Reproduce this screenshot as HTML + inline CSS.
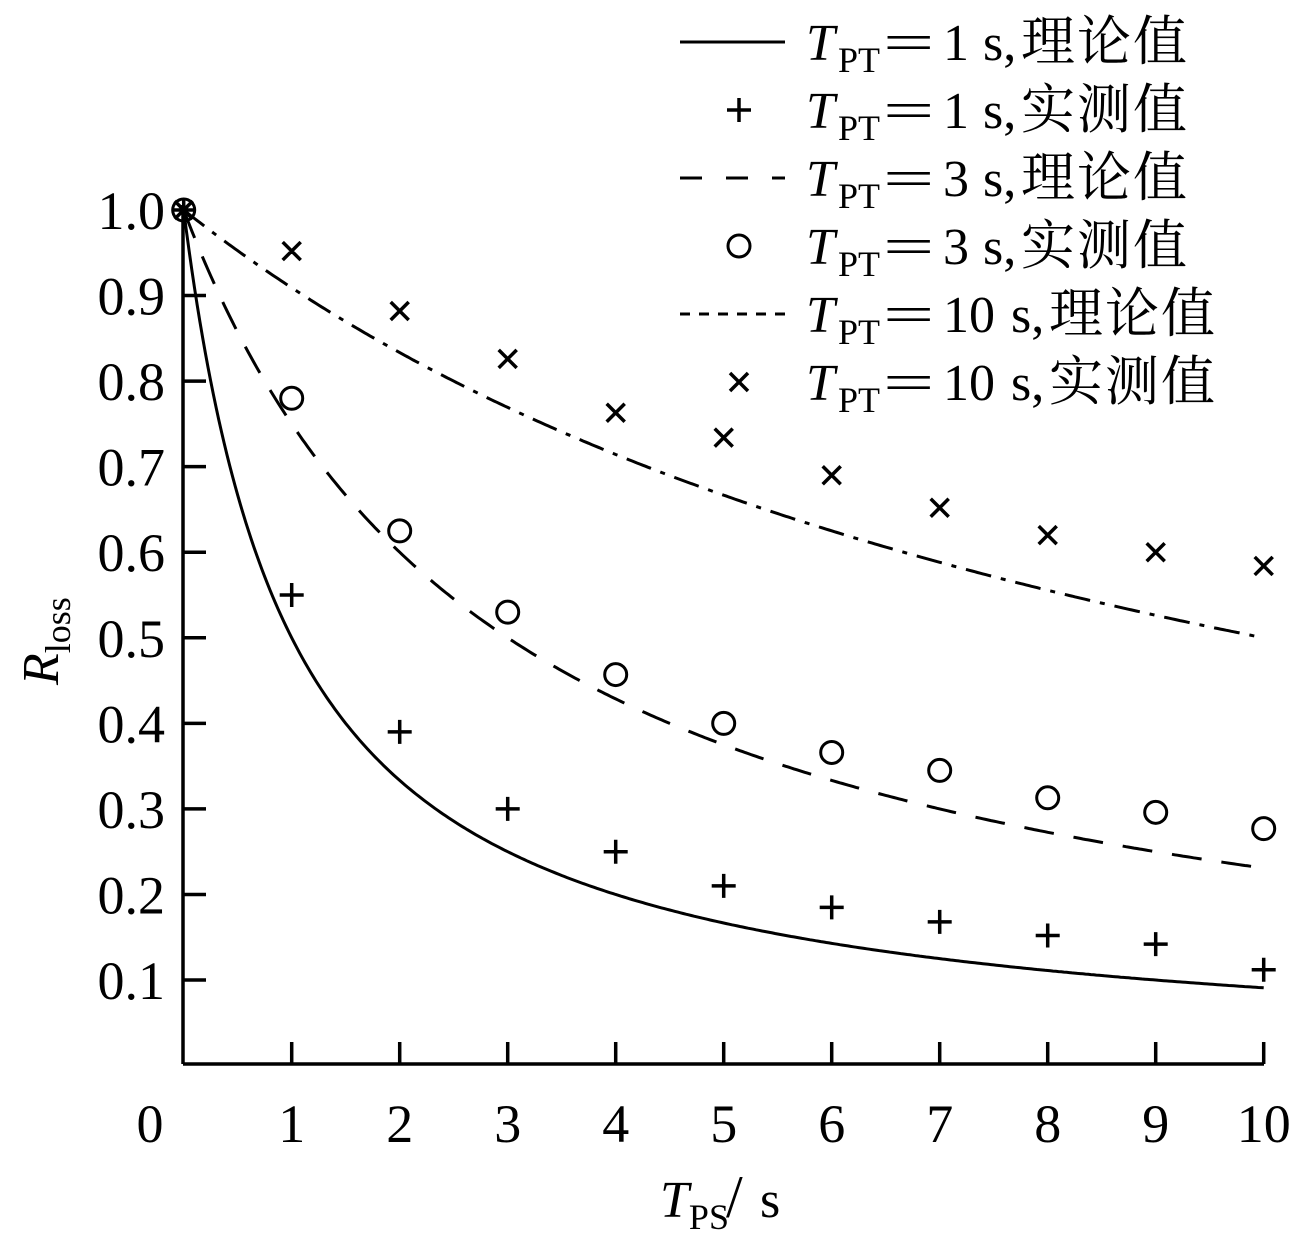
<!DOCTYPE html>
<html><head><meta charset="utf-8"><style>
html,body{margin:0;padding:0;background:#fff}
svg text{font-family:"Liberation Serif","Noto Serif CJK SC","Noto Sans CJK SC",serif;fill:#000}
</style></head><body>
<svg id="s" width="1292" height="1254" viewBox="0 0 1292 1254" xmlns="http://www.w3.org/2000/svg">
<g stroke="#000" stroke-width="3.5" fill="none">
<path d="M183 1064 H1264 M183 1064 V205"/>
<g id="ticks"></g>
<path id="c1" stroke-width="3"/>
<path id="c3" stroke-width="3" stroke-dasharray="30 20"/>
<path id="c10" stroke-width="3" stroke-dasharray="26 10 5 10"/>
<g id="marks" stroke-width="3.5"></g>
<path d="M680 42 H785" stroke-width="3"/>
<path d="M727 110 H751 M739 98 V122" stroke-width="3.5"/>
<path d="M680 178 H785" stroke-width="3" stroke-dasharray="22 24"/>
<circle cx="739" cy="246" r="11" stroke-width="3"/>
<path d="M680 314 H785" stroke-width="3" stroke-dasharray="10 9"/>
<path d="M730 373 L748 391 M748 373 L730 391" stroke-width="3.5"/>
</g>
<g font-size="54" id="labels"></g>
<g font-size="52" id="leg"></g>
<g font-size="52">
<text y="1217"><tspan x="660" font-style="italic">T</tspan><tspan font-size="36" dy="12">PS</tspan><tspan dy="-12" x="726" font-size="60">/</tspan><tspan x="760">s</tspan></text>
<text transform="translate(58,685) rotate(-90)"><tspan font-style="italic">R</tspan><tspan font-size="36" dy="12">loss</tspan></text>
</g>
</svg>
<script>
var X=function(v){return 183.7+108*v},Y=function(v){return 1065.6-855.6*v};
function curve(T){var d="";for(var i=0;i<=400;i++){var x=i/40;d+=(i?"L":"M")+X(x).toFixed(1)+" "+Y(T/(T+x)).toFixed(1);}return d;}
document.getElementById("c1").setAttribute("d",curve(1));
document.getElementById("c3").setAttribute("d",curve(3));
document.getElementById("c10").setAttribute("d",curve(10));
var t="";for(var i=1;i<=10;i++){t+="M"+X(i)+" 1064 V1042 ";}
for(var j=1;j<=9;j++){t+="M183 "+Y(j/10)+" H206 ";}
document.getElementById("ticks").innerHTML='<path d="'+t+'"/>';
var plus=[.55,.39,.30,.25,.21,.185,.168,.152,.142,.112];
var circ=[.78,.625,.53,.457,.40,.366,.345,.313,.296,.277];
var crs=[.952,.882,.826,.763,.734,.69,.652,.62,.6,.584];
var m='<circle cx="'+X(0)+'" cy="'+Y(1)+'" r="11" stroke-width="3"/>';
m+='<path d="M'+(X(0)-12)+' '+Y(1)+'H'+(X(0)+12)+'M'+X(0)+' '+(Y(1)-12)+'V'+(Y(1)+12)+'M'+(X(0)-9)+' '+(Y(1)-9)+'L'+(X(0)+9)+' '+(Y(1)+9)+'M'+(X(0)+9)+' '+(Y(1)-9)+'L'+(X(0)-9)+' '+(Y(1)+9)+'"/>';
var p="";
for(var k=0;k<10;k++){var x=X(k+1);
 var y=Y(plus[k]);p+="M"+(x-12)+" "+y+"H"+(x+12)+"M"+x+" "+(y-12)+"V"+(y+12);
 y=Y(crs[k]);p+="M"+(x-9)+" "+(y-9)+"L"+(x+9)+" "+(y+9)+"M"+(x+9)+" "+(y-9)+"L"+(x-9)+" "+(y+9);
 m+='<circle cx="'+x+'" cy="'+Y(circ[k])+'" r="11" stroke-width="3"/>';}
m+='<path d="'+p+'"/>';
document.getElementById("marks").innerHTML=m;
var l="";
for(var j=1;j<=10;j++){l+='<text x="165" y="'+(Y(j/10)+19)+'" text-anchor="end">'+(j==10?"1.0":"0."+j)+'</text>';}
l+='<text x="150" y="1142" text-anchor="middle">0</text>';
for(var i=1;i<=10;i++){l+='<text x="'+X(i)+'" y="1142" text-anchor="middle">'+i+'</text>';}
document.getElementById("labels").innerHTML=l;
var rows=[["1","理论值"],["1","实测值"],["3","理论值"],["3","实测值"],["10","理论值"],["10","实测值"]];
var g="";
for(var r=0;r<6;r++){var by=60+68*r;var ten=rows[r][0]=="10";var sh=ten?28:0;
 g+='<text y="'+by+'"><tspan x="806" font-style="italic">T</tspan><tspan x="838" font-size="36" dy="12">PT</tspan></text>'+
 '<text transform="translate(883,'+by+') scale(1.75,1)" x="0" y="0">=</text>'+
 '<text y="'+by+'"><tspan x="943">'+rows[r][0]+'</tspan>'+
 '<tspan x="'+(983+sh)+'">s,</tspan><tspan x="'+(1021+sh)+'" font-size="54" letter-spacing="2">'+rows[r][1]+'</tspan></text>';}
document.getElementById("leg").innerHTML=g;
</script>
</body></html>
